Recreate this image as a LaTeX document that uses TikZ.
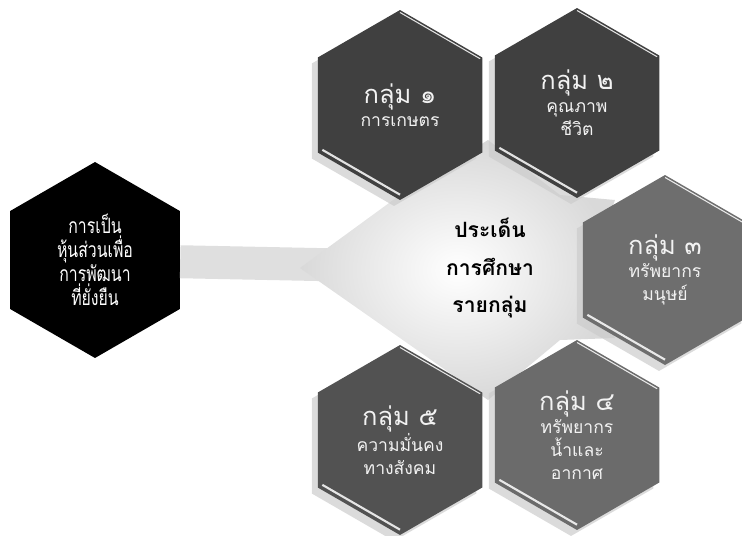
\documentclass[tikz,border=0pt]{standalone}
\usepackage{fontspec}
\newfontfamily\thaifont[Script=Thai]{Loma}
\newfontfamily\thainarrow[Script=Thai, FakeStretch=0.75]{Loma}
\usetikzlibrary{shapes.geometric}
\usetikzlibrary{shadows}
\usetikzlibrary{calc}
\tikzset{grp/.style = {regular polygon, regular polygon sides=6, regular polygon rotate=30,
                       minimum size=3.8cm, inner sep=-8pt, text=gray!10, align=center,
                       font=\thaifont\fontsize{10}{13}\selectfont,
                       drop shadow={shadow xshift=-0.12cm, shadow yshift=-0.12cm,
                                    fill=gray!40, opacity=0.7}}}
\tikzset{partner/.style = {regular polygon, regular polygon sides=6, regular polygon rotate=30,
                           minimum size=3.92cm, inner sep=-10pt, fill=black, text=white,
                           align=center, font=\thainarrow\fontsize{12}{13.6}\selectfont}}
\tikzset{centre/.style = {align=center, font=\thaifont\bfseries\fontsize{12}{21.5}\selectfont}}
\tikzset{bevel/.style = {white, line width=1.2pt, opacity=0.85}}
\tikzset{band/.style = {gray!25, line width=0.66cm}}
\newcommand{\grptitle}[1]{{\fontsize{14.5}{17}\selectfont #1}}

\begin{document}
\begin{tikzpicture}[x=0.02cm, y=-0.02cm]
  \useasboundingbox (0,0) rectangle (742,535);
  \node [partner] (partner) at (95,260) {การเป็น\\หุ้นส่วนเพื่อ\\การพัฒนา\\ที่ยั่งยืน};
  \coordinate (c) at (490,268);
  \draw [band] (partner) -- (c);
  % light star behind the groups
  \shade [inner color=white, outer color=gray!30]
    (488,140) -- (560,195) -- (615,200) -- (590,268) -- (615,338) -- (560,340)
    -- (488,400) -- (410,345) -- (300,268) -- (400,195) -- cycle;
  \node [grp, fill=black!75] (g1) at (400,105) {\grptitle{กลุ่ม ๑}\\การเกษตร};
  \node [grp, fill=black!75] (g2) at (577,103) {\grptitle{กลุ่ม ๒}\\คุณภาพ\\ชีวิต};
  \node [grp, fill=black!57] (g3) at (665,270) {\grptitle{กลุ่ม ๓}\\ทรัพยากร\\มนุษย์};
  \node [grp, fill=black!58] (g4) at (577,435) {\grptitle{กลุ่ม ๔}\\ทรัพยากร\\น้ำและ\\อากาศ};
  \node [grp, fill=black!68] (g5) at (400,440) {\grptitle{กลุ่ม ๕}\\ความมั่นคง\\ทางสังคม};
  \foreach \g in {g1,g2,g3,g4,g5} {
    \draw [bevel] ($(\g.210)!.06!(\g.center)$) -- ($(\g.270)!.06!(\g.center)$);
    \draw [bevel, line width=0.6pt] ($(\g.90)!.03!(\g.center)$) -- ($(\g.30)!.03!(\g.center)$);
  }
  \node [centre] (centre) at (c) {ประเด็น\\การศึกษา\\รายกลุ่ม};
\end{tikzpicture}
\end{document}
